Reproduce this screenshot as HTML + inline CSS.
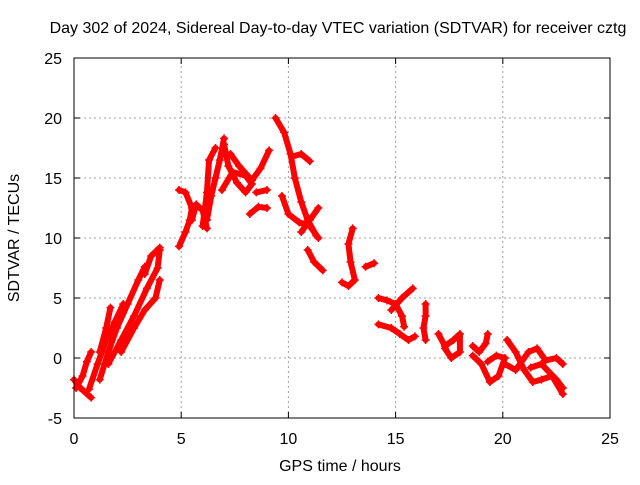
<!DOCTYPE html>
<html><head><meta charset="utf-8"><style>
body{margin:0;background:#fff}
svg text{font-family:"Liberation Sans",sans-serif;font-size:16px;fill:#000}
</style></head><body>
<svg id="chart" width="640" height="480" xmlns="http://www.w3.org/2000/svg">
<text x="338" y="33" text-anchor="middle">Day 302 of 2024, Sidereal Day-to-day VTEC variation (SDTVAR) for receiver cztg</text>
<text x="340" y="471" text-anchor="middle">GPS time / hours</text>
<text x="19" y="238" text-anchor="middle" transform="rotate(-90 19 238)">SDTVAR / TECUs</text>
<g id="grid"></g>
<g id="ticks"></g>
<g id="marks"></g>
<rect x="74" y="58" width="536" height="360" fill="none" stroke="#000" stroke-width="1"/>
</svg>
<script>
const xTicks=[0,5,10,15,20,25];
const yTicks=[-5,0,5,10,15,20,25];
const tracks=[
[[0,-1.8],[0.3,-2.5],[0.8,-3.3]],
[[0.1,-2.5],[0.4,-1.5],[0.6,-0.3],[0.8,0.5]],
[[1.2,-1.8],[1.6,0.5],[2.0,2.5],[2.5,4.5],[3.0,6.5],[3.3,7.6]],
[[1.2,0.5],[1.5,2.5],[1.7,4.2]],
[[0.7,-2.6],[1.1,-0.5],[1.5,1.5],[1.9,3.0],[2.3,4.5]],
[[1.6,-0.5],[2.2,1.5],[2.8,3.5],[3.4,5.8],[3.9,7.5],[4.0,9.0]],
[[2.2,0.5],[2.8,2.5],[3.3,4.0],[3.8,5.0],[4.0,6.5]],
[[3.3,7.0],[3.6,8.5],[4.0,9.2]],
[[4.9,9.3],[5.2,10.5],[5.4,11.5],[5.5,12.5],[5.2,13.8],[4.9,14.0]],
[[5.5,11.5],[5.7,12.8],[6.0,12.3],[6.2,10.8]],
[[6.2,11.5],[6.4,13.5],[6.6,15.0],[6.8,16.5],[7.0,18.3]],
[[6.0,11.0],[6.2,13.8],[6.3,16.5],[6.6,17.5]],
[[7.0,17.8],[7.2,16.0],[7.6,14.6],[8.0,13.8],[8.3,14.5],[8.0,15.2],[7.4,15.5],[6.9,14.0]],
[[7.3,17.0],[7.7,16.0],[8.2,15.0]],
[[8.3,14.8],[8.7,15.8],[9.1,17.3]],
[[8.2,12.0],[8.6,12.6],[9.0,12.5]],
[[8.5,13.8],[9.0,14.0]],
[[9.4,20],[9.8,18.8],[10.1,17.0],[10.3,15.0],[10.6,13.0],[10.9,11.5],[11.3,10.2]],
[[10.2,16.8],[10.6,17.0],[11.0,16.4]],
[[9.7,13.5],[10.0,12.0],[10.5,11.3],[11.0,11.0],[11.4,10.0]],
[[11.4,12.5],[11.0,11.5],[10.6,10.5]],
[[10.9,9.0],[11.2,8.0],[11.6,7.3]],
[[13.0,10.8],[12.8,9.5],[12.9,8.0],[13.1,6.5],[12.8,6.0],[12.5,6.3]],
[[13.6,7.6],[14.0,7.9]],
[[14.2,5.0],[14.6,4.8],[15.0,4.5],[15.3,3.5],[15.4,2.6]],
[[14.8,4.0],[15.3,5.0],[15.8,5.8]],
[[14.2,2.8],[14.8,2.5],[15.2,2.0],[15.6,1.5],[15.9,1.8]],
[[16.4,4.5],[16.4,3.5],[16.3,2.5],[16.4,1.5]],
[[17.0,2.0],[17.3,1.0],[17.7,1.5],[18.0,2.0],[18.0,0.5],[17.6,0.0],[17.3,0.8]],
[[18.6,1.0],[18.9,0.5],[19.2,1.2],[19.3,2.0]],
[[18.6,0.2],[19.0,-0.5],[19.4,-2.0],[19.8,-1.5],[20.1,0.0],[19.7,0.2],[19.3,-0.3]],
[[20.2,1.5],[20.6,0.5],[21.0,-1.0],[21.4,-2.0],[21.8,-1.8],[22.3,-1.5],[22.8,-3.0]],
[[20.1,-0.5],[20.6,-1.0],[21.2,0.5],[21.6,0.8],[22.0,-0.2],[22.5,0.0],[22.8,-0.5]],
[[21.3,-0.8],[21.8,-0.5],[22.5,-1.8],[22.8,-2.5]]
];
const NS="http://www.w3.org/2000/svg";
const X0=74,X1=610,Y0=418,Y1=58;
function sx(v){return X0+(v-0)/(25-0)*(X1-X0);}
function sy(v){return Y0-(v+5)/(25+5)*(Y0-Y1);}
const grid=document.getElementById('grid'),ticks=document.getElementById('ticks'),marks=document.getElementById('marks');
function mk(tag,attrs,parent){const e=document.createElementNS(NS,tag);for(const k in attrs)e.setAttribute(k,attrs[k]);parent.appendChild(e);return e;}
xTicks.forEach(t=>{
  const x=sx(t);
  if(t>0&&t<25){const g=mk('line',{x1:x,y1:Y0,x2:x,y2:Y1,stroke:'#a0a0a0','stroke-dasharray':'2,3'},grid);
  
  }
  mk('line',{x1:x,y1:Y0,x2:x,y2:Y0-6,stroke:'#000'},ticks);
  mk('line',{x1:x,y1:Y1,x2:x,y2:Y1+6,stroke:'#000'},ticks);
  const l=mk('text',{x:x,y:Y0+26,'text-anchor':'middle'},ticks);l.textContent=t;
  
  
});
yTicks.forEach(t=>{
  const y=sy(t);
  if(t>-5&&t<25){const g=mk('line',{x1:X0,y1:y,x2:X1,y2:y,stroke:'#a0a0a0','stroke-dasharray':'2,3'},grid);
  
  }
  mk('line',{x1:X0,y1:y,x2:X0+6,y2:y,stroke:'#000'},ticks);
  mk('line',{x1:X1,y1:y,x2:X1-6,y2:y,stroke:'#000'},ticks);
  const l=mk('text',{x:X0-12,y:y+6,'text-anchor':'end'},ticks);l.textContent=t;
  
  
});
tracks.forEach(tr=>{
  const pts=tr.map(p=>sx(p[0])+','+sy(p[1])).join(' ');
  const pl=mk('polyline',{points:pts,fill:'none',stroke:'#ff0000','stroke-width':6,'stroke-linejoin':'round','stroke-linecap':'round'},marks);
  
  
  tr.forEach(p=>{
    const x=sx(p[0]),y=sy(p[1]);
    const m=mk('path',{d:`M${x-4},${y}H${x+4}M${x},${y-4}V${y+4}`,stroke:'#ff0000','stroke-width':1.5},marks);
    
    
  });
});
</script>
</body></html>
